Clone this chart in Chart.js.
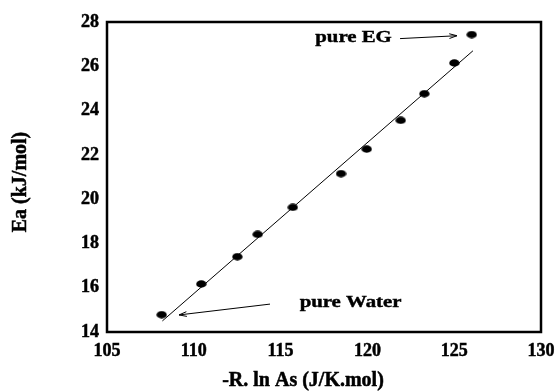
<!DOCTYPE html>
<html>
<head>
<meta charset="utf-8">
<script src="https://cdn.jsdelivr.net/npm/chart.js@4"></script>
<style>
  html, body { margin: 0; padding: 0; background: #fff; }
  #wrap { width: 555px; height: 392px; }
</style>
</head>
<body>
<div id="wrap"><canvas id="grafico" width="555" height="392"></canvas></div>
<script>
// Ea vs -R ln As for the EG / water mixtures
const lnAs = [108.15, 110.43, 112.51, 113.68, 115.70, 118.48, 119.96, 121.92, 123.28, 125.01, 126.01];
const ea = [14.78, 16.17, 17.40, 18.41, 19.63, 21.15, 22.26, 23.56, 24.76, 26.15, 27.43];

// straight line fit through the series
const fitX = [108.19, 126.08];
const fitY = [14.50, 26.70];

const xTicks = [105, 110, 115, 120, 125, 130];
const yTicks = [14, 16, 18, 20, 22, 24, 26, 28];

// notes with arrows (data units)
const noteText = ["pure EG", "pure Water"];
const noteX = [119.2, 119.03];
const noteY = [27.28, 15.31];
const arrowFromX = [121.88, 114.39];
const arrowFromY = [27.25, 15.26];
const arrowToX = [125.16, 109.15];
const arrowToY = [27.38, 14.77];

const xTitle = "-R. ln As (J/K.mol)";
const yTitle = "Ea (kJ/mol)";

const SERIF = "'Liberation Serif', 'Times New Roman', serif";

// filled ellipse used as the marker
const dot = document.createElement("canvas");
dot.width = 11;
dot.height = 8;
(function () {
    const c = dot.getContext("2d");
    c.fillStyle = "#000";
    c.beginPath();
    c.ellipse(5.5, 4, 5.2, 3.7, 0, 0, Math.PI * 2);
    c.fill();
})();

// filled text with a thin outline so it reads heavier
function boldText(ctx, text, x, y) {
    ctx.fillText(text, x, y);
    ctx.strokeText(text, x, y);
}

const frameAndNotes = {
    id: "frameAndNotes",
    afterDatasetsDraw(chart) {
        const { ctx, chartArea: a, scales: { x, y } } = chart;
        ctx.save();

        // box round the plot
        ctx.strokeStyle = "#000";
        ctx.lineWidth = 2.5;
        ctx.strokeRect(a.left, a.top, a.right - a.left, a.bottom - a.top);

        // notes
        ctx.fillStyle = "#000";
        ctx.textAlign = "center";
        ctx.textBaseline = "middle";
        ctx.font = "bold 16px " + SERIF;
        for (let i = 0; i < noteText.length; i++) {
            ctx.save();
            ctx.translate(x.getPixelForValue(noteX[i]), y.getPixelForValue(noteY[i]));
            ctx.scale(1.3, 1);
            ctx.lineWidth = 0.4;
            boldText(ctx, noteText[i], 0, 0);
            ctx.restore();

            const x0 = x.getPixelForValue(arrowFromX[i]);
            const y0 = y.getPixelForValue(arrowFromY[i]);
            const x1 = x.getPixelForValue(arrowToX[i]);
            const y1 = y.getPixelForValue(arrowToY[i]);
            const ang = Math.atan2(y1 - y0, x1 - x0);
            ctx.lineWidth = 1;
            ctx.beginPath();
            ctx.moveTo(x0, y0);
            ctx.lineTo(x1, y1);
            ctx.stroke();
            ctx.beginPath();
            ctx.moveTo(x1 - 8 * Math.cos(ang - 0.3), y1 - 8 * Math.sin(ang - 0.3));
            ctx.lineTo(x1, y1);
            ctx.lineTo(x1 - 8 * Math.cos(ang + 0.3), y1 - 8 * Math.sin(ang + 0.3));
            ctx.stroke();
        }

        // axis titles
        ctx.font = "bold 20px " + SERIF;
        ctx.lineWidth = 0.5;
        boldText(ctx, xTitle, (a.left + a.right) / 2 - 21, chart.height - 11);
        ctx.save();
        ctx.translate(21, (a.top + a.bottom) / 2 + 5);
        ctx.rotate(-Math.PI / 2);
        boldText(ctx, yTitle, 0, 0);
        ctx.restore();

        ctx.restore();
    }
};

const tickFont = { family: SERIF, size: 18, weight: "bold" };

new Chart(document.getElementById("grafico"), {
    type: "scatter",
    data: {
        datasets: [
            {
                label: "Ea",
                data: lnAs.map((v, i) => ({ x: v, y: ea[i] })),
                pointStyle: dot,
                pointRadius: 5,
                showLine: false
            },
            {
                label: "fit",
                data: fitX.map((v, i) => ({ x: v, y: fitY[i] })),
                showLine: true,
                borderColor: "#000",
                borderWidth: 1,
                pointRadius: 0
            }
        ]
    },
    options: {
        responsive: false,
        animation: false,
        devicePixelRatio: 1,
        layout: { padding: { top: 22, right: 14, left: 0, bottom: 0 } },
        plugins: {
            legend: { display: false },
            tooltip: { enabled: false }
        },
        scales: {
            x: {
                type: "linear",
                min: xTicks[0],
                max: xTicks[xTicks.length - 1],
                afterFit: s => { s.height = 60; s.paddingLeft = 0; s.paddingRight = 0; },
                afterBuildTicks: s => { s.ticks = xTicks.map(v => ({ value: v })); },
                grid: { display: false, drawTicks: false },
                border: { display: false },
                ticks: {
                    font: tickFont, color: "#000", padding: 9, maxRotation: 0, autoSkip: false,
                    textStrokeColor: "#000", textStrokeWidth: 0.5
                }
            },
            y: {
                type: "linear",
                min: yTicks[0],
                max: yTicks[yTicks.length - 1],
                afterFit: s => { s.width = 107; s.paddingTop = 0; s.paddingBottom = 0; },
                afterBuildTicks: s => { s.ticks = yTicks.map(v => ({ value: v })); },
                grid: { display: false, drawTicks: false },
                border: { display: false },
                ticks: {
                    font: tickFont, color: "#000", padding: 8, autoSkip: false,
                    textStrokeColor: "#000", textStrokeWidth: 0.5
                }
            }
        }
    },
    plugins: [frameAndNotes]
});
</script>
</body>
</html>
